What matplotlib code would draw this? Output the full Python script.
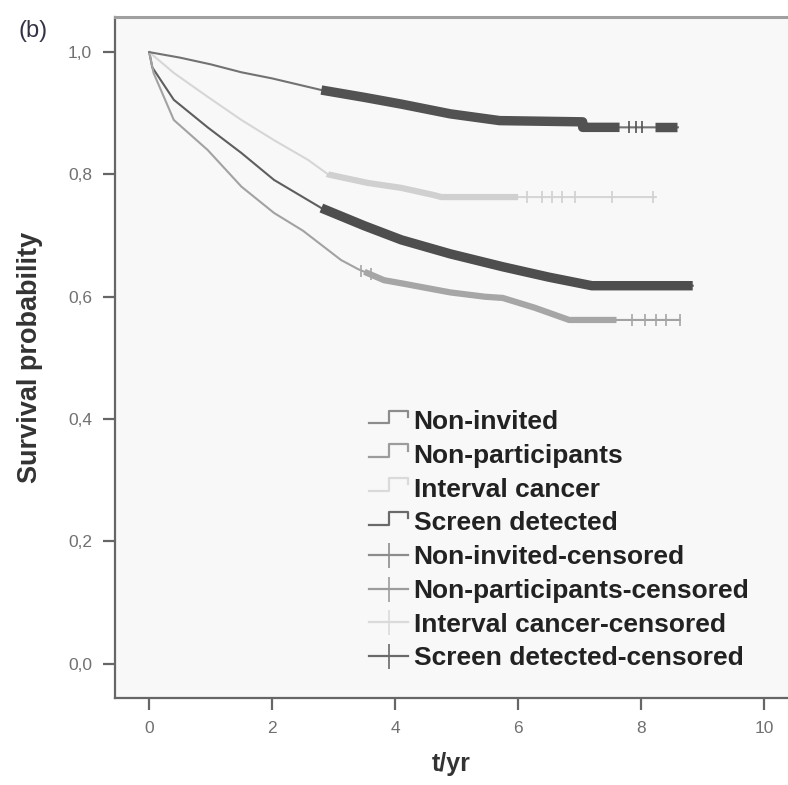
import numpy as np
import matplotlib
matplotlib.use("Agg")
import matplotlib.pyplot as plt
from matplotlib.lines import Line2D
from matplotlib.legend_handler import HandlerBase

plt.rcParams['font.family'] = ['Liberation Sans', 'DejaVu Sans']

# survival curves (time in years, survival probability)
screen_t = [0, 0.5, 1.0, 1.5, 2.0, 2.8, 3.5, 4.1, 4.9, 5.7, 7.05, 7.05, 8.6]
screen_s = [1.0, 0.991, 0.98, 0.967, 0.957, 0.938, 0.926, 0.915, 0.899, 0.888, 0.886, 0.877, 0.877]

noninv_t = [0, 0.05, 0.4, 0.95, 1.5, 2.03, 2.8, 3.5, 4.1, 4.9, 5.75, 6.5, 7.2, 8.84]
noninv_s = [1.0, 0.975, 0.922, 0.877, 0.835, 0.791, 0.745, 0.716, 0.693, 0.67, 0.649, 0.632, 0.618, 0.618]

nonpart_t = [0, 0.07, 0.4, 0.95, 1.5, 2.03, 2.5, 3.12, 3.4, 3.82, 4.1, 4.9, 5.46, 5.75, 6.27, 6.83, 8.63]
nonpart_s = [1.0, 0.966, 0.889, 0.84, 0.78, 0.737, 0.708, 0.66, 0.645, 0.627, 0.622, 0.607, 0.60, 0.598, 0.582, 0.562, 0.562]

interval_t = [0, 0.4, 0.95, 1.5, 2.03, 2.58, 2.91, 3.56, 4.1, 4.64, 4.75, 8.24]
interval_s = [1.0, 0.966, 0.927, 0.889, 0.856, 0.824, 0.80, 0.786, 0.778, 0.766, 0.763, 0.763]

# stretches where censor marks are so dense they merge into a band
screen_dense = [(2.8, 7.65), (8.22, 8.58)]
noninv_dense = [(2.8, 8.84)]
nonpart_dense = [(3.5, 7.6)]
interval_dense = [(2.9, 6.0)]

# single censor marks that can be told apart
screen_cens = [7.8, 7.92, 8.02]
noninv_cens = []
nonpart_cens = [3.45, 3.6, 7.86, 8.07, 8.24, 8.40, 8.63]
interval_cens = [6.14, 6.39, 6.55, 6.72, 6.93, 7.53, 8.19]

labels = ["Non-invited", "Non-participants", "Interval cancer", "Screen detected"]
line_cols = ["#5e5e5e", "#a2a2a2", "#d6d6d6", "#727272"]
band_cols = ["#4e4e4e", "#a6a6a6", "#d0d0d0", "#525252"]
band_lw = [6.8, 4.5, 4.5, 6.8]
legend_cols = ["#8c8c8c", "#9c9c9c", "#dadada", "#6a6a6a"]

x_ticks = [0, 2, 4, 6, 8, 10]
y_ticks = [0.0, 0.2, 0.4, 0.6, 0.8, 1.0]


class StepHandler(HandlerBase):  # little step symbol like SPSS uses
    def create_artists(self, legend, orig_handle, xdescent, ydescent, width, height, fontsize, trans):
        x0 = -xdescent
        y0 = -ydescent
        xs = [x0, x0 + 0.5 * width, x0 + 0.5 * width, x0 + width, x0 + width]
        ys = [y0 + 0.3 * height, y0 + 0.3 * height, y0 + 1.0 * height, y0 + 1.0 * height, y0 + 0.65 * height]
        ln = Line2D(xs, ys, color=orig_handle.get_color(), lw=orig_handle.get_linewidth())
        ln.set_transform(trans)
        return [ln]


def segment(t, s, a, b):  # part of a curve between two times
    t = np.array(t, dtype=float)
    s = np.array(s, dtype=float)
    keep = (t > a) & (t < b)
    tt = np.concatenate([[a], t[keep], [b]])
    ss = np.concatenate([[np.interp(a, t, s)], s[keep], [np.interp(b, t, s, right=s[-1])]])
    return tt, ss


fig = plt.figure(figsize=(7.88, 7.85), dpi=100)
ax = fig.add_axes([0.146, 0.111, 0.854, 0.867])
ax.set_facecolor("#f8f8f8")

groups = [(noninv_t, noninv_s, noninv_dense, noninv_cens),
          (nonpart_t, nonpart_s, nonpart_dense, nonpart_cens),
          (interval_t, interval_s, interval_dense, interval_cens),
          (screen_t, screen_s, screen_dense, screen_cens)]

for i, (t, s, dense, cens) in enumerate(groups):
    ax.plot(t, s, color=line_cols[i], lw=1.5, zorder=2)
    for a, b in dense:
        tt, ss = segment(t, s, a, b)
        ax.plot(tt, ss, color=band_cols[i], lw=band_lw[i], solid_capstyle="butt", zorder=3)
    if cens:
        ax.plot(cens, np.interp(cens, t, s), ls="none", marker="|", ms=9, mew=1.2,
                color=band_cols[i], zorder=3)

ax.set_xlim(-0.556, 10.39)
ax.set_ylim(-0.056, 1.057)
ax.set_xticks(x_ticks)
ax.set_yticks(y_ticks)
ax.set_yticklabels([("%.1f" % v).replace(".", ",") for v in y_ticks])
ax.tick_params(direction="out", length=8.5, width=1.6, color="#666666", labelcolor="#707070", labelsize=12.5)
ax.tick_params(axis="x", pad=8)
ax.tick_params(axis="y", pad=8)

for side in ["left", "bottom"]:
    ax.spines[side].set_color("#666666")
    ax.spines[side].set_linewidth(1.6)
ax.spines["top"].set_color("#a0a0a0")
ax.spines["top"].set_linewidth(2.2)
ax.spines["right"].set_visible(False)

ax.set_ylabel("Survival probability", fontsize=19.5, fontweight="bold", color="#333333", labelpad=18)
ax.set_xlabel("t/yr", fontsize=18, fontweight="bold", color="#333333", labelpad=12)

fig.text(0.023, 0.96, "(b)", fontsize=17, color="#333344", va="center")

handles = []
hmap = {}
for i, lab in enumerate(labels):
    h = Line2D([], [], color=legend_cols[i], lw=1.6)
    handles.append(h)
    hmap[h] = StepHandler()
for i, lab in enumerate(labels):
    handles.append(Line2D([], [], color=legend_cols[i], lw=1.6, marker="|", ms=18, mew=1.2))
names = labels + [lab + "-censored" for lab in labels]

leg = ax.legend(handles, names, handler_map=hmap, loc="upper left", bbox_to_anchor=(0.377, 0.423),
                frameon=False, numpoints=1, handlelength=1.5, handletextpad=0.2, labelspacing=0.37,
                borderpad=0, borderaxespad=0, prop={"weight": "bold", "size": 19})
for txt in leg.get_texts():
    txt.set_color("#222222")

fig.savefig("out.png", dpi=100)
